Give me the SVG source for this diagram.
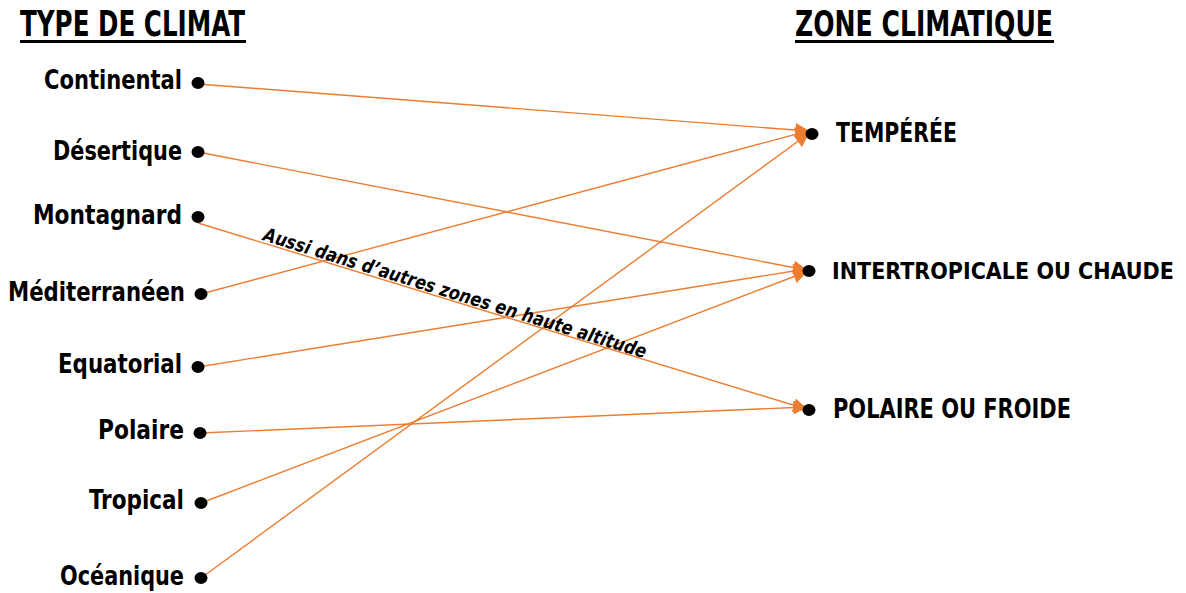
<svg xmlns="http://www.w3.org/2000/svg" width="1186" height="593" viewBox="0 0 1186 593">
  <style>
    text { font-family: "Liberation Sans Narrow", "DejaVu Sans Condensed", "Liberation Sans", sans-serif; font-weight: bold; fill: #000; }
    .hdr { font-size: 36px; }
    .lbl { font-size: 27px; text-anchor: end; }
    .zone { font-size: 27px; }
    .zone-long { font-size: 23px; }
    .note { font-size: 19px; font-style: italic; }
    .link { stroke: #ED7D31; stroke-width: 1.4; fill: none; marker-end: url(#arrow); }
    .dot { fill: #000; }
  </style>
  <defs>
    <marker id="arrow" viewBox="0 0 10 10" refX="9" refY="5" markerWidth="16" markerHeight="14" markerUnits="userSpaceOnUse" orient="auto">
      <path d="M0,0 L10,5 L0,10 z" fill="#ED7D31"/>
    </marker>
  </defs>

  <rect width="1186" height="593" fill="#fff"/>

  <g id="headers">
    <text class="hdr" x="20" y="36" textLength="225" lengthAdjust="spacingAndGlyphs">TYPE DE CLIMAT</text>
    <rect x="20" y="40" width="226" height="3" fill="#000"/>
    <text class="hdr" x="795" y="36" textLength="258" lengthAdjust="spacingAndGlyphs">ZONE CLIMATIQUE</text>
    <rect x="795" y="40" width="259" height="3" fill="#000"/>
  </g>

  <g id="connectors">
    <line class="link" x1="198" y1="84" x2="808" y2="131"/>
    <line class="link" x1="198" y1="152" x2="806" y2="270"/>
    <line class="link" x1="198" y1="223" x2="806" y2="409"/>
    <line class="link" x1="201" y1="294" x2="808" y2="131"/>
    <line class="link" x1="198" y1="367" x2="806" y2="269"/>
    <line class="link" x1="200" y1="433" x2="806" y2="407"/>
    <line class="link" x1="201" y1="503" x2="806" y2="272"/>
    <line class="link" x1="201" y1="578" x2="808" y2="134"/>
  </g>

  <g id="note">
    <text class="note" transform="translate(262,240) rotate(17.2)" textLength="400" lengthAdjust="spacingAndGlyphs">Aussi dans d’autres zones en haute altitude</text>
  </g>

  <g id="climate-continental">
    <text class="lbl" x="182" y="89" textLength="138" lengthAdjust="spacingAndGlyphs">Continental</text>
    <ellipse class="dot" cx="198" cy="83" rx="6.5" ry="6"/>
  </g>
  <g id="climate-desertique">
    <text class="lbl" x="182" y="160" textLength="129" lengthAdjust="spacingAndGlyphs">Désertique</text>
    <ellipse class="dot" cx="198" cy="152" rx="6.5" ry="6"/>
  </g>
  <g id="climate-montagnard">
    <text class="lbl" x="182" y="224" textLength="149" lengthAdjust="spacingAndGlyphs">Montagnard</text>
    <ellipse class="dot" cx="198" cy="217" rx="6.5" ry="6"/>
  </g>
  <g id="climate-mediterraneen">
    <text class="lbl" x="185" y="301" textLength="177" lengthAdjust="spacingAndGlyphs">Méditerranéen</text>
    <ellipse class="dot" cx="201" cy="294" rx="6.5" ry="6"/>
  </g>
  <g id="climate-equatorial">
    <text class="lbl" x="182" y="373" textLength="124" lengthAdjust="spacingAndGlyphs">Equatorial</text>
    <ellipse class="dot" cx="198" cy="367" rx="6.5" ry="6"/>
  </g>
  <g id="climate-polaire">
    <text class="lbl" x="184" y="439" textLength="86" lengthAdjust="spacingAndGlyphs">Polaire</text>
    <ellipse class="dot" cx="200" cy="433" rx="6.5" ry="6"/>
  </g>
  <g id="climate-tropical">
    <text class="lbl" x="184" y="509" textLength="95" lengthAdjust="spacingAndGlyphs">Tropical</text>
    <ellipse class="dot" cx="201" cy="503" rx="6.5" ry="6"/>
  </g>
  <g id="climate-oceanique">
    <text class="lbl" x="184" y="585" textLength="124" lengthAdjust="spacingAndGlyphs">Océanique</text>
    <ellipse class="dot" cx="201" cy="578" rx="6.5" ry="6"/>
  </g>

  <g id="zone-temperee">
    <ellipse class="dot" cx="812" cy="134" rx="6.5" ry="6"/>
    <text class="zone" x="836" y="142" textLength="121" lengthAdjust="spacingAndGlyphs">TEMPÉRÉE</text>
  </g>
  <g id="zone-intertropicale">
    <ellipse class="dot" cx="809" cy="271" rx="6.5" ry="6"/>
    <text class="zone-long" x="832" y="279">INTERTROPICALE OU CHAUDE</text>
  </g>
  <g id="zone-polaire">
    <ellipse class="dot" cx="809" cy="410" rx="6.5" ry="6"/>
    <text class="zone" x="833" y="418" textLength="238" lengthAdjust="spacingAndGlyphs">POLAIRE OU FROIDE</text>
  </g>
</svg>
